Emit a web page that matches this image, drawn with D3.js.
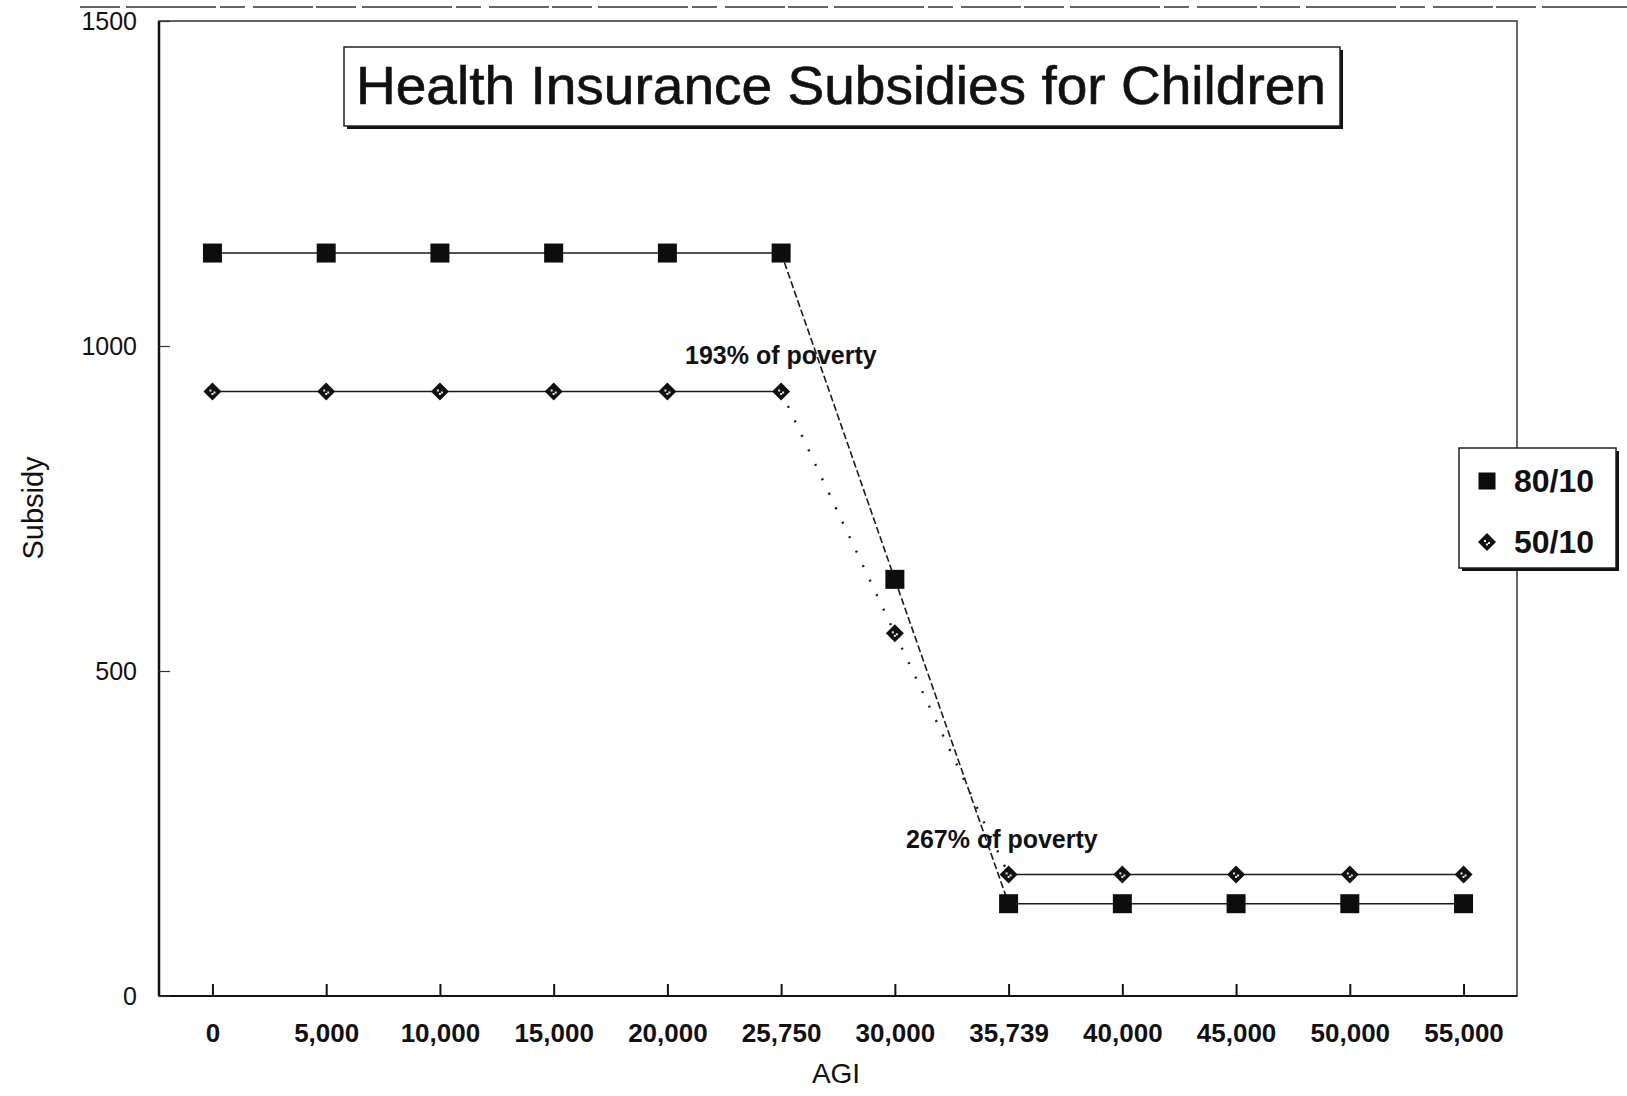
<!DOCTYPE html>
<html>
<head>
<meta charset="utf-8">
<script src="https://cdn.jsdelivr.net/npm/d3@7"></script>
<style>
  html, body { margin: 0; padding: 0; background: #fff; }
  svg { display: block; }
  text { fill: #111; font-family: "Liberation Sans", Arial, sans-serif; }
</style>
</head>
<body>
<svg id="chart" width="1627" height="1096"></svg>
<script>
// AGI categories (evenly spaced on the axis)
const categories = ["0", "5,000", "10,000", "15,000", "20,000", "25,750",
                    "30,000", "35,739", "40,000", "45,000", "50,000", "55,000"];
// Subsidy by plan
const subsidy8010 = [1143, 1143, 1143, 1143, 1143, 1143, 641, 142, 142, 142, 142, 142];
const subsidy5010 = [930, 930, 930, 930, 930, 930, 558, 187, 187, 187, 187, 187];
const seriesNames = ["80/10", "50/10"];
const yTicks = [0, 500, 1000, 1500];
const notes = ["193% of poverty", "267% of poverty"];

const svg = d3.select("#chart");
const plot = { left: 159, right: 1517, top: 21, bottom: 996 };

const x = d3.scalePoint().domain(categories).range([plot.left, plot.right]).padding(0.47);
const y = d3.scaleLinear().domain([0, 1500]).range([plot.bottom, plot.top]);

// page edge line along the top
svg.append("line")
  .attr("x1", 80).attr("x2", 1627).attr("y1", 7).attr("y2", 7)
  .attr("stroke", "#333").attr("stroke-width", 1.3)
  .attr("stroke-dasharray", "40,6,90,4,25,8,60,3");

// plot frame
svg.append("rect")
  .attr("x", plot.left).attr("y", plot.top)
  .attr("width", plot.right - plot.left).attr("height", plot.bottom - plot.top)
  .attr("fill", "none").attr("stroke", "#333").attr("stroke-width", 1.5);
svg.append("line")
  .attr("x1", plot.left).attr("x2", plot.left).attr("y1", plot.top).attr("y2", plot.bottom)
  .attr("stroke", "#111").attr("stroke-width", 2.5);
svg.append("line")
  .attr("x1", plot.left).attr("x2", plot.right).attr("y1", plot.bottom).attr("y2", plot.bottom)
  .attr("stroke", "#111").attr("stroke-width", 2);

// x axis: inward ticks, bold labels
const xAxis = svg.append("g")
  .attr("transform", `translate(0,${plot.bottom})`)
  .call(d3.axisBottom(x).tickSizeInner(-12).tickSizeOuter(0).tickPadding(28));
xAxis.select(".domain").remove();
xAxis.selectAll(".tick line").attr("stroke", "#111").attr("stroke-width", 2);
xAxis.selectAll(".tick text")
  .attr("font-family", "'Liberation Sans', Arial, sans-serif")
  .attr("font-size", 26).attr("font-weight", "bold").attr("fill", "#111");

// y axis: inward ticks
const yAxis = svg.append("g")
  .attr("transform", `translate(${plot.left},0)`)
  .call(d3.axisLeft(y).tickValues(yTicks).tickFormat(d3.format("d"))
        .tickSizeInner(-11).tickSizeOuter(0).tickPadding(22));
yAxis.select(".domain").remove();
yAxis.selectAll(".tick line").attr("stroke", "#333").attr("stroke-width", 1.2);
yAxis.selectAll(".tick text")
  .attr("font-family", "'Liberation Sans', Arial, sans-serif")
  .attr("font-size", 25).attr("fill", "#111");

// axis titles
svg.append("text")
  .attr("transform", "translate(43,508) rotate(-90)")
  .attr("text-anchor", "middle")
  .attr("font-size", 29)
  .text("Subsidy");
svg.append("text")
  .attr("x", 836).attr("y", 1083)
  .attr("text-anchor", "middle")
  .attr("font-size", 28)
  .text("AGI");

// chart title in a boxed frame with drop shadow
const tb = { x: 344, y: 47, w: 996, h: 79 };
svg.append("rect").attr("x", tb.x + 3).attr("y", tb.y + 3).attr("width", tb.w).attr("height", tb.h)
  .attr("fill", "#111");
svg.append("rect").attr("x", tb.x).attr("y", tb.y).attr("width", tb.w).attr("height", tb.h)
  .attr("fill", "#fff").attr("stroke", "#222").attr("stroke-width", 1.5);
svg.append("text")
  .attr("x", 356).attr("y", 104)
  .attr("font-size", 53)
  .attr("stroke", "#111").attr("stroke-width", 0.6)
  .attr("textLength", 970).attr("lengthAdjust", "spacingAndGlyphs")
  .text("Health Insurance Subsidies for Children");

// series lines, drawn segment by segment: flat runs solid, declines broken
function drawSeries(values, dashDrop, dropWidth) {
  const pts = categories.map((c, i) => [x(c), y(values[i])]);
  const g = svg.append("g");
  for (let i = 0; i < pts.length - 1; i++) {
    const flat = values[i] === values[i + 1];
    g.append("path")
      .attr("d", d3.line()([pts[i], pts[i + 1]]))
      .attr("fill", "none")
      .attr("stroke", "#1a1a1a")
      .attr("stroke-width", flat ? 1.4 : dropWidth)
      .attr("stroke-dasharray", flat ? null : dashDrop);
  }
  return pts;
}

const pts8010 = drawSeries(subsidy8010, "7,3", 1.6);
const pts5010 = drawSeries(subsidy5010, "2,14", 2.4);

// square markers
function squareAt(g, cx, cy, s) {
  g.append("rect").attr("x", cx - s / 2).attr("y", cy - s / 2)
    .attr("width", s).attr("height", s).attr("fill", "#0d0d0d");
}
// solid diamond markers with small light specks inside
function diamondAt(g, cx, cy, r) {
  g.append("path")
    .attr("d", `M${cx},${cy - r}L${cx + r},${cy}L${cx},${cy + r}L${cx - r},${cy}Z`)
    .attr("fill", "#111");
  [[-2, -1], [2, 1], [0, 2.5]].forEach(([dx, dy]) => {
    g.append("rect").attr("x", cx + dx - 1).attr("y", cy + dy - 1)
      .attr("width", 2).attr("height", 2).attr("fill", "#e8e8e8");
  });
}

const markers = svg.append("g");
pts8010.forEach(p => squareAt(markers, p[0], p[1], 19));
pts5010.forEach(p => diamondAt(markers, p[0], p[1], 9));

// poverty-line annotations
svg.append("text").attr("x", 685).attr("y", 364)
  .attr("font-size", 25).attr("font-weight", "bold").text(notes[0]);
svg.append("text").attr("x", 906).attr("y", 848)
  .attr("font-size", 25).attr("font-weight", "bold").text(notes[1]);

// legend box with shadow, overlapping the right frame edge
const lg = { x: 1459, y: 448, w: 157, h: 120 };
svg.append("rect").attr("x", lg.x + 3).attr("y", lg.y + 3).attr("width", lg.w).attr("height", lg.h)
  .attr("fill", "#111");
svg.append("rect").attr("x", lg.x).attr("y", lg.y).attr("width", lg.w).attr("height", lg.h)
  .attr("fill", "#fff").attr("stroke", "#222").attr("stroke-width", 1.5);
const lgItems = svg.append("g");
squareAt(lgItems, 1487, 481, 17);
diamondAt(lgItems, 1487, 542, 9);
lgItems.append("text").attr("x", 1514).attr("y", 492)
  .attr("font-size", 32).attr("font-weight", "bold").text(seriesNames[0]);
lgItems.append("text").attr("x", 1514).attr("y", 553)
  .attr("font-size", 32).attr("font-weight", "bold").text(seriesNames[1]);
</script>
</body>
</html>
